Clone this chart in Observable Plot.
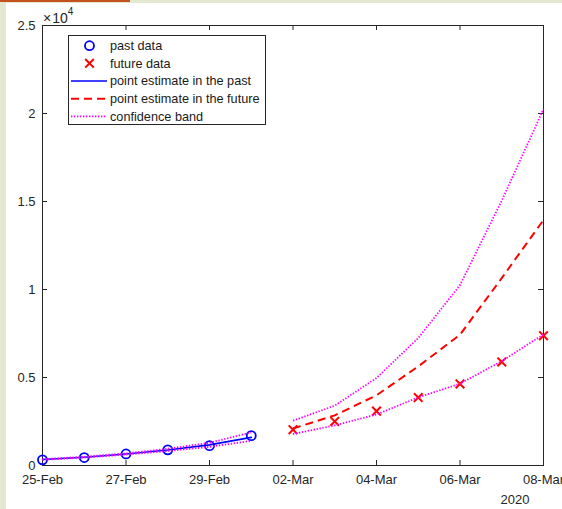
<!DOCTYPE html>
<html>
<head>
<meta charset="utf-8">
<script src="https://cdn.jsdelivr.net/npm/d3@7"></script>
<script src="https://cdn.jsdelivr.net/npm/@observablehq/plot@0.6"></script>
<style>
  html, body { margin: 0; padding: 0; background: #ffffff; }
  #wrap { position: relative; width: 562px; height: 509px; overflow: hidden; }
  #wrap svg { position: absolute; left: 0; top: 0; }
  .edge-left { position: absolute; left: 0; top: 0; width: 6px; height: 509px; background: #e4e8d1; z-index: 2; }
  .edge-top { position: absolute; left: 0; top: 0; width: 562px; height: 3px; background: #e4e8d1; z-index: 2; }
  .edge-accent { position: absolute; left: 0; top: 0; width: 130px; height: 2px; background: #c4521f; z-index: 3; }
</style>
</head>
<body>
<div id="wrap">
  <div class="edge-left"></div>
  <div class="edge-top"></div>
  <div class="edge-accent"></div>
</div>
<script>
// Observed cumulative cases (past window and held-out future window)
const pastDays   = ["2020-02-25", "2020-02-26", "2020-02-27", "2020-02-28", "2020-02-29", "2020-03-01"];
const pastCases  = [322, 453, 655, 888, 1128, 1694];
const futureDays = ["2020-03-02", "2020-03-03", "2020-03-04", "2020-03-05", "2020-03-06", "2020-03-07", "2020-03-08"];
const futureCases = [2036, 2502, 3089, 3858, 4636, 5883, 7375];

// Model point estimates and confidence band
const pastFit     = [340, 470, 650, 880, 1170, 1600];
const pastUpper   = [360, 500, 690, 950, 1290, 1880];
const pastLower   = [320, 450, 620, 820, 1060, 1400];
const futureFit   = [2100, 2850, 3990, 5630, 7430, 10650, 13950];
const futureUpper = [2550, 3400, 4970, 7240, 10250, 15050, 20250];
const futureLower = [1790, 2280, 2900, 3870, 4650, 5930, 7450];

// Axis ticks
const xTickDays = ["2020-02-25", "2020-02-27", "2020-02-29", "2020-03-02", "2020-03-04", "2020-03-06", "2020-03-08"];
const yTicks = [0, 5000, 10000, 15000, 20000, 25000];
const xDomainDays = ["2020-02-25", "2020-03-08"];

const legendLabels = ["past data", "future data", "point estimate in the past", "point estimate in the future", "confidence band"];

const day = s => new Date(s + "T00:00:00Z");
const past = pastDays.map((d, i) => ({date: day(d), cases: pastCases[i], fit: pastFit[i], hi: pastUpper[i], lo: pastLower[i]}));
const future = futureDays.map((d, i) => ({date: day(d), cases: futureCases[i], fit: futureFit[i], hi: futureUpper[i], lo: futureLower[i]}));
const xTicks = xTickDays.map(day);

const AX = "#262626";
const BLUE = "#0000ff", RED = "#ff0000", MAGENTA = "#ff00ff";
const FONT = "'Liberation Sans', Arial, Helvetica, sans-serif";
const TICK = 5;
const W = 562, H = 509, mT = 25, mR = 19, mB = 44, mL = 42;
const innerH = H - mT - mB, innerW = W - mL - mR;

const DOTS = "1.4,1.6", DASHES = "8,5";
const dotted = {stroke: MAGENTA, strokeWidth: 1.8, strokeDasharray: DOTS, strokeLinecap: "butt", strokeLinejoin: "miter"};

const chart = Plot.plot({
  width: W, height: H,
  marginTop: mT, marginRight: mR, marginBottom: mB, marginLeft: mL,
  style: {background: "transparent", fontFamily: FONT, fontSize: "13px", color: AX},
  x: {type: "utc", domain: xDomainDays.map(day)},
  y: {domain: [0, 25000]},
  marks: [
    // inward ticks on all four sides
    Plot.gridX(xTicks, {stroke: AX, strokeOpacity: 1, insetTop: innerH - TICK}),
    Plot.gridX(xTicks, {stroke: AX, strokeOpacity: 1, insetBottom: innerH - TICK}),
    Plot.gridY(yTicks, {stroke: AX, strokeOpacity: 1, insetRight: innerW - TICK}),
    Plot.gridY(yTicks, {stroke: AX, strokeOpacity: 1, insetLeft: innerW - TICK}),
    Plot.axisX(xTicks, {tickSize: 0, tickPadding: 9, label: null, tickFormat: d3.utcFormat("%d-%b"), fill: AX}),
    Plot.axisY(yTicks, {tickSize: 0, tickPadding: 7, label: null, tickFormat: d => String(d / 1e4), fill: AX}),
    Plot.frame({stroke: AX, strokeWidth: 1}),
    // observations
    Plot.dot(past, {x: "date", y: "cases", r: 4.5, stroke: BLUE, strokeWidth: 1.8, fill: "none"}),
    Plot.dot(future, {x: "date", y: "cases", symbol: "times", r: 4, stroke: RED, strokeWidth: 2}),
    // fits
    Plot.line(past, {x: "date", y: "fit", stroke: BLUE, strokeWidth: 1.6}),
    Plot.line(future, {x: "date", y: "fit", stroke: RED, strokeWidth: 2, strokeDasharray: DASHES, strokeLinecap: "butt"}),
    // confidence band
    Plot.line(past, {x: "date", y: "hi", ...dotted}),
    Plot.line(past, {x: "date", y: "lo", ...dotted}),
    Plot.line(future, {x: "date", y: "hi", ...dotted}),
    Plot.line(future, {x: "date", y: "lo", ...dotted})
  ]
});

document.getElementById("wrap").appendChild(chart);

const svg = d3.select(chart);

// exponent label above the y axis
const expo = svg.append("text").attr("x", mL + 1).attr("y", 23)
  .style("text-anchor", "start").style("font-family", FONT).style("font-size", "14px").attr("fill", AX);
expo.append("tspan").text("\u00d7");
expo.append("tspan").attr("dx", 1).text("10");
expo.append("tspan").style("font-size", "10px").attr("dy", -8).text("4");

// year label under the last date tick
svg.append("text").attr("x", 515).attr("y", 504)
  .style("text-anchor", "middle").style("font-family", FONT).style("font-size", "13px").attr("fill", AX).text("2020");

// legend box
const lg = svg.append("g").style("font-family", FONT).style("font-size", "12.7px").style("text-anchor", "start");
const lx = 68.5, ly = 35.5, lw = 197, lh = 89, row = 17.65, r0 = 45.7;
lg.append("rect").attr("x", lx).attr("y", ly).attr("width", lw).attr("height", lh)
  .attr("fill", "#ffffff").attr("stroke", AX).attr("stroke-width", 1);
const sx0 = 71, sx1 = 107, sxc = 89.5;
legendLabels.forEach((label, i) => {
  const cy = r0 + i * row;
  if (i === 0) {
    lg.append("circle").attr("cx", sxc).attr("cy", cy).attr("r", 4.5)
      .attr("fill", "none").attr("stroke", BLUE).attr("stroke-width", 1.8);
  } else if (i === 1) {
    lg.append("path").attr("d", d3.symbol(d3.symbolTimes, 50)())
      .attr("transform", `translate(${sxc},${cy})`).attr("fill", "none")
      .attr("stroke", RED).attr("stroke-width", 2);
  } else {
    const ln = lg.append("line").attr("x1", sx0).attr("x2", sx1).attr("y1", cy).attr("y2", cy);
    if (i === 2) ln.attr("stroke", BLUE).attr("stroke-width", 1.6);
    if (i === 3) ln.attr("stroke", RED).attr("stroke-width", 2).attr("stroke-dasharray", DASHES);
    if (i === 4) ln.attr("stroke", MAGENTA).attr("stroke-width", 1.8).attr("stroke-dasharray", DOTS);
  }
  lg.append("text").attr("x", 110).attr("y", cy).attr("dy", "0.35em").attr("fill", "#1a1a1a").text(label);
});
</script>
</body>
</html>
